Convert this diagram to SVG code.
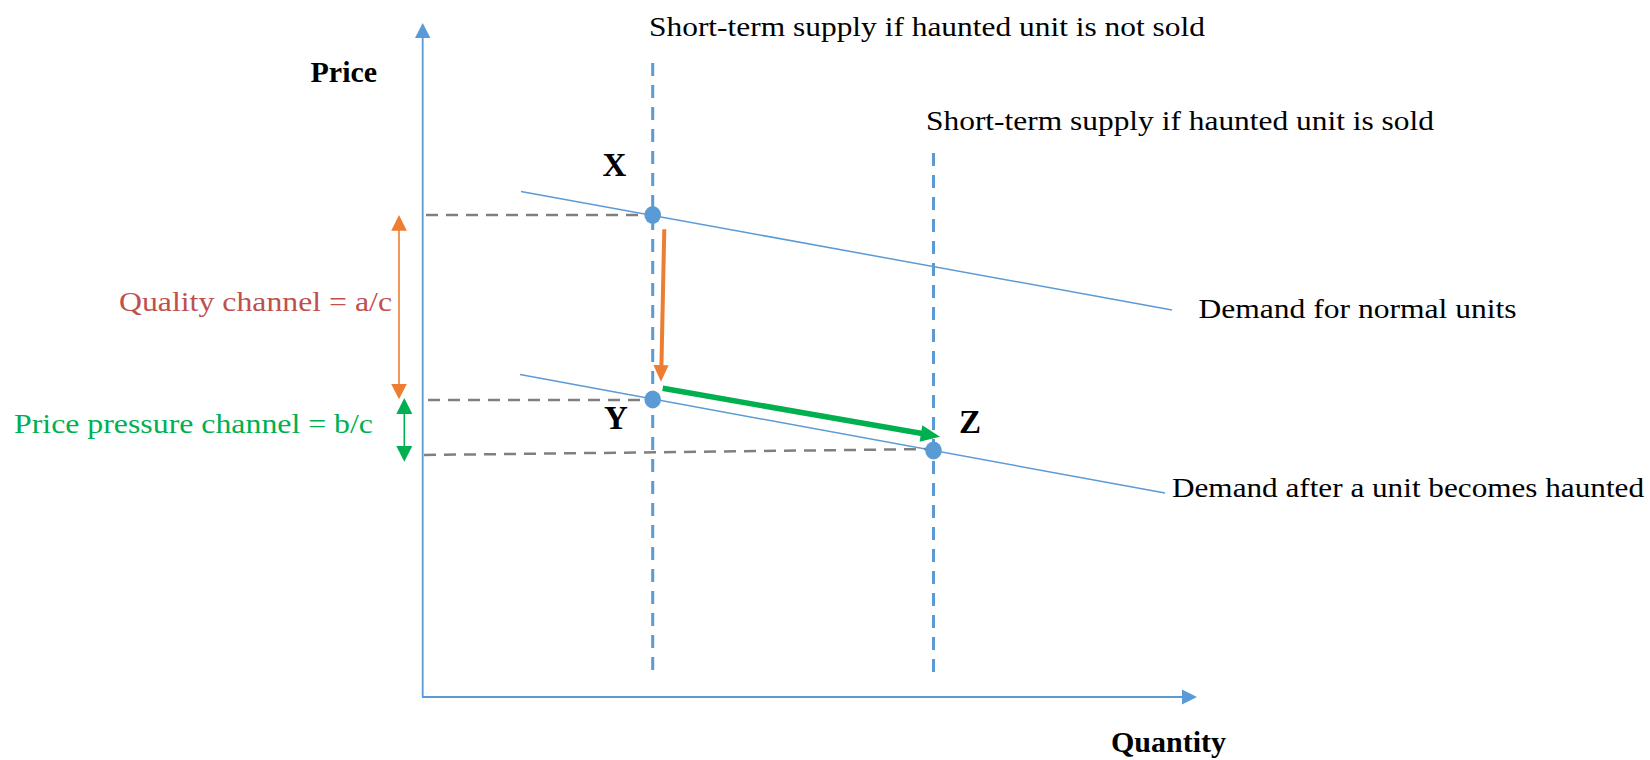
<svg xmlns="http://www.w3.org/2000/svg" width="1650" height="760" viewBox="0 0 1650 760">
<style>
.axis{stroke:#5B9BD5;stroke-width:1.8;fill:none}
.demand{stroke:#5B9BD5;stroke-width:1.5;fill:none}
.supply{stroke:#5B9BD5;stroke-width:3;stroke-dasharray:13 9;fill:none}
.guide{stroke:#7F7F7F;stroke-width:2.5;stroke-dasharray:12 8;fill:none}
.pt{fill:#5B9BD5}
.lbl{font-family:'Liberation Serif',serif;font-size:28px;fill:#000}
.bold{font-family:'Liberation Serif',serif;font-weight:bold;fill:#000}
</style>
<rect width="1650" height="760" fill="#fff"/>

<g id="axes">
<line class="axis" x1="422.7" y1="697" x2="422.7" y2="36"/>
<path d="M422.7,23 L415,38 L430.4,38 Z" fill="#5B9BD5"/>
<line class="axis" x1="422" y1="697" x2="1184" y2="697"/>
<path d="M1197,697 L1182,689.5 L1182,704.5 Z" fill="#5B9BD5"/>
<text class="bold" font-family="Liberation Serif, serif" x="310.5" y="81.7" font-size="30">Price</text>
<text class="bold" font-family="Liberation Serif, serif" x="1111" y="751.7" font-size="30">Quantity</text>
</g>

<g id="connectors">
<line class="supply" x1="652.7" y1="63" x2="652.7" y2="670"/>
<line class="supply" x1="933.5" y1="153" x2="933.5" y2="679"/>
<line class="demand" x1="521" y1="191.5" x2="1172" y2="310"/>
<line class="demand" x1="520" y1="374.6" x2="1165" y2="493"/>
<line class="guide" x1="426" y1="215" x2="652" y2="215"/>
<line class="guide" x1="428" y1="400" x2="652" y2="400"/>
<line class="guide" x1="424" y1="455" x2="933" y2="449"/>
<line x1="399" y1="228" x2="399" y2="386" stroke="#ED7D31" stroke-width="1.6"/>
<path d="M399,215 L391.2,230.7 L406.8,230.7 Z" fill="#ED7D31"/>
<path d="M399,399.3 L391.2,384 L406.8,384 Z" fill="#ED7D31"/>
<line x1="404.3" y1="412" x2="404.3" y2="448" stroke="#00B050" stroke-width="1.6"/>
<path d="M404.3,398 L396.3,414 L412.3,414 Z" fill="#00B050"/>
<path d="M404.3,461.7 L396.3,446 L412.3,446 Z" fill="#00B050"/>
<line x1="664.3" y1="229.3" x2="661.4" y2="367" stroke="#ED7D31" stroke-width="4"/>
<path d="M661,381.7 L653.4,365 L668.6,365.3 Z" fill="#ED7D31"/>
<line x1="662.7" y1="388.3" x2="925" y2="434" stroke="#00B050" stroke-width="5.5"/>
<path d="M940,436.7 L922.3,425.2 L919.6,441.8 Z" fill="#00B050"/>
</g>

<g id="node-X">
<ellipse class="pt" cx="652.7" cy="215" rx="8.3" ry="9"/>
<text class="bold" font-family="Liberation Serif, serif" x="602.5" y="175.5" font-size="33">X</text>
</g>
<g id="node-Y">
<ellipse class="pt" cx="652.7" cy="399.5" rx="8.3" ry="9"/>
<text class="bold" font-family="Liberation Serif, serif" x="604" y="428.5" font-size="33">Y</text>
</g>
<g id="node-Z">
<ellipse class="pt" cx="933.5" cy="450.5" rx="8.3" ry="9"/>
<text class="bold" font-family="Liberation Serif, serif" x="959" y="432.5" font-size="33">Z</text>
</g>

<g id="labels">
<text class="lbl" font-family="Liberation Serif, serif" x="649" y="36" textLength="556" lengthAdjust="spacingAndGlyphs">Short-term supply if  haunted unit is not sold</text>
<text class="lbl" font-family="Liberation Serif, serif" x="926" y="130" textLength="508" lengthAdjust="spacingAndGlyphs">Short-term supply if  haunted unit is sold</text>
<text class="lbl" font-family="Liberation Serif, serif" x="1198.5" y="318.3" textLength="318" lengthAdjust="spacingAndGlyphs">Demand for normal units</text>
<text class="lbl" font-family="Liberation Serif, serif" x="1172" y="497" textLength="472" lengthAdjust="spacingAndGlyphs">Demand after a unit becomes haunted</text>
<text class="lbl" font-family="Liberation Serif, serif" x="119" y="310.7" textLength="273" lengthAdjust="spacingAndGlyphs" style="fill:#C0504D">Quality channel = a/c</text>
<text class="lbl" font-family="Liberation Serif, serif" x="14" y="433" textLength="359" lengthAdjust="spacingAndGlyphs" style="fill:#00B050">Price pressure channel = b/c</text>
</g>
</svg>
